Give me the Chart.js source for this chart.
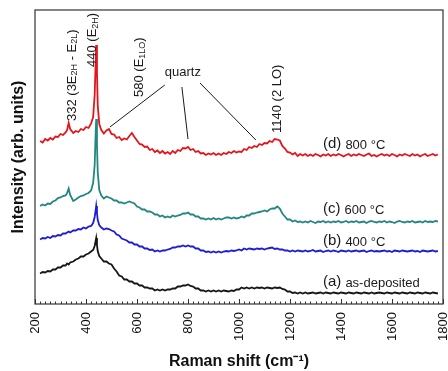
<!DOCTYPE html>
<html lang="en">
<head>
    <meta charset="UTF-8">
    <title>Raman spectra</title>
    <script src="https://cdn.jsdelivr.net/npm/chart.js"></script>
    <style>
        body { margin: 0; background: #fff; }
    </style>
</head>
<body>
    <canvas id="ramanChart" width="448" height="371"></canvas>
    <script>
        // Raman shift (cm-1), shared by all spectra
        const shift = [220, 230, 240, 250, 260, 270, 280, 290, 300, 310, 320, 326, 332, 338,
            350, 360, 370, 380, 390, 400, 410, 420, 428, 434, 437, 440, 443, 446, 452,
            460, 470, 480, 490, 500, 510, 520, 530, 540, 550,
            560, 570, 580, 590, 600, 610, 620, 630, 640, 650,
            660, 670, 680, 690, 700, 710, 720, 730, 740, 750,
            760, 770, 780, 790, 800, 810, 820, 830, 840, 850,
            860, 870, 880, 890, 900, 910, 920, 930, 940, 950,
            960, 970, 980, 990, 1000, 1010, 1020, 1030, 1040, 1050,
            1060, 1070, 1080, 1090, 1100, 1110, 1120, 1130, 1140, 1150,
            1160, 1170, 1180, 1190, 1200, 1210, 1220, 1230, 1240, 1250,
            1260, 1270, 1280, 1290, 1300, 1310, 1320, 1330, 1340, 1350,
            1360, 1370, 1380, 1390, 1400, 1410, 1420, 1430, 1440, 1450,
            1460, 1470, 1480, 1490, 1500, 1510, 1520, 1530, 1540, 1550,
            1560, 1570, 1580, 1590, 1600, 1610, 1620, 1630, 1640, 1650,
            1660, 1670, 1680, 1690, 1700, 1710, 1720, 1730, 1740, 1750,
            1760, 1770, 1780];

        // (d) 800 °C
        const d800 = [163, 161.5, 165, 163.5, 166, 164.5, 167.5, 167, 170, 169, 171.5, 174, 181, 175,
            171, 173, 172, 175, 174, 177, 176, 180.5, 187, 209, 234, 259, 232, 199, 180,
            174, 170.5, 173.5, 175, 170, 169.5, 166, 167, 164, 165.5,
            164.5, 168, 171, 167, 163.5, 160, 159.5, 157, 157.5, 154,
            155, 152, 153.5, 151, 153, 150.5, 152, 150, 153, 151,
            154, 153, 156, 155.5, 157, 154, 155, 152, 153, 150.5,
            151, 149, 150.5, 149.5, 151, 149, 150.5, 149, 151, 150,
            152, 151, 153, 151.5, 152.5, 152, 155, 154, 157, 156,
            158, 157, 160, 159, 161, 160.5, 163, 162, 165, 164.5,
            163.5, 158, 155.5, 152, 151.5, 149.5, 151, 148, 150, 148.5,
            150, 148, 149.5, 148, 150, 149, 147.5, 149.5, 148.5, 150,
            148, 149.5, 148.5, 150, 149, 147.5, 149, 150, 148, 149.5,
            148.5, 150, 149, 148, 149.5, 150.5, 148, 149, 147.5, 149,
            150, 148.5, 149.5, 148, 150, 149, 147.5, 149.5, 148.5, 150,
            149, 148, 150, 148.5, 149.5, 147.5, 149, 150, 148, 149,
            150, 148.5, 149.5];

        // (c) 600 °C
        const c600 = [98, 99.5, 98.5, 100.5, 100, 102.5, 103.5, 106, 106.5, 108, 108.5, 111, 115.5, 109,
            103, 104.5, 106.5, 108, 108.5, 110, 111, 113.5, 121, 139, 164, 185, 159, 132, 114,
            108.5, 105.5, 107.5, 106.5, 105.5, 103.5, 103.5, 101.5, 101.5, 100.5,
            101.5, 102.5, 101.5, 100.5, 97.5, 96.5, 94.5, 94.5, 92.5, 92.5,
            91.5, 89.5, 89.5, 87.5, 88.5, 86.5, 87.5, 86.5, 88.5, 87.5,
            88.5, 89, 90.5, 90.5, 91.5, 89.5, 89.5, 87.5, 87.5, 85.5,
            85.5, 84.5, 85.5, 84.5, 86, 84.5, 85.5, 84.5, 85.5, 86.5,
            86.5, 85.5, 86.5, 85.5, 86, 87.5, 86.5, 88.5, 88.5, 90.5,
            90.5, 91.5, 92, 92.5, 93.5, 92.5, 94.5, 95.5, 95.5, 97.5,
            95.5, 90.5, 87.5, 84.5, 84.5, 82.5, 83.5, 82, 82.5, 81.5,
            82.5, 81.5, 83, 82, 81, 82.5, 82, 83, 81.5, 82.5,
            81.5, 82.5, 82, 83, 81.5, 82, 83, 81.5, 82.5, 82,
            83, 81.5, 82, 82.5, 81, 82.5, 83, 82, 81.5, 82.5,
            82, 83, 81.5, 82.5, 82, 81, 82.5, 83, 82, 81.5,
            82.5, 82, 83, 81.5, 82, 82.5, 81.5, 83, 82, 82.5,
            82, 83, 82.5];

        // (b) 400 °C
        const b400 = [64.5, 66, 65.5, 67, 66, 68, 67.5, 69, 68.5, 70.5, 70.5, 71.5, 72.5, 71.5,
            73.5, 73.5, 75, 74.5, 76.5, 75.5, 77.5, 78, 81, 87, 92, 98, 91, 84, 79,
            76.5, 74.5, 75.5, 75, 73.5, 72.5, 69.5, 68.5, 65.5, 64.5,
            63.5, 61.5, 61.5, 59.5, 59.5, 57.5, 57.5, 55.5, 55.5, 54,
            54.5, 52.5, 53.5, 52.5, 53.5, 53.5, 54.5, 55, 56.5, 56.5,
            57.5, 57.5, 58.5, 57.5, 58.5, 57.5, 57.5, 55.5, 55.5, 53.5,
            53.5, 52, 52.5, 51.5, 52.5, 51.5, 52.5, 51.5, 52.5, 53,
            52.5, 53.5, 53, 53.5, 54.5, 53.5, 55.5, 54.5, 55.5, 55,
            54.5, 55.5, 55, 55.5, 54.5, 55.5, 56, 56.5, 55, 55.5,
            54.5, 54.5, 53.5, 53.5, 52.5, 53.5, 52.5, 53.5, 53, 52.5,
            53.5, 52.5, 53, 54, 52.5, 53, 53.5, 52, 53, 53.5,
            52.5, 53.5, 53, 52, 53.5, 53, 52.5, 53.5, 52.5, 53,
            53.5, 52.5, 53, 53.5, 52, 53, 53.5, 52.5, 53, 52.5,
            53, 53.5, 52.5, 53, 52, 53.5, 53, 52.5, 53.5, 53,
            52.5, 53, 53.5, 52.5, 53, 52, 53.5, 53, 52.5, 53,
            53.5, 52.5, 53];

        // (a) as-deposited
        const asDep = [30.5, 32, 31.5, 33, 32.5, 34.5, 34.5, 36.5, 36.5, 38.5, 38.5, 40.5, 39.5, 41.5,
            42.5, 44.5, 45.5, 47.5, 47.5, 49.5, 50.5, 52.5, 54, 58, 62, 66, 59, 53, 48,
            45.5, 42.5, 42.5, 40.5, 39.5, 35.5, 32.5, 28.5, 27.5, 24.5,
            24.5, 22.5, 22.5, 20.5, 20.5, 18.5, 18.5, 16.5, 16.5, 15.5,
            15.5, 13.5, 14.5, 13.5, 14.5, 13.5, 14.5, 14.5, 15.5, 15.5,
            17.5, 17.5, 18.5, 18.5, 19.5, 18, 17.5, 15.5, 15.5, 13.5,
            13.5, 12.5, 13.5, 12.5, 13.5, 12.5, 13.5, 12.5, 13.5, 13,
            12.5, 13.5, 13, 14.5, 14.5, 16.5, 15.5, 16.5, 15.5, 16.5,
            15.5, 16.5, 16, 16.5, 15.5, 16.5, 16, 15.5, 16.5, 16,
            16.5, 15, 14.5, 12.5, 12.5, 11, 11.5, 10.5, 11.5, 10.5,
            11.5, 10.5, 11, 11.5, 10.5, 11, 11.5, 10.5, 11.5, 11,
            10.5, 11.5, 11, 10.5, 11.5, 11, 10.5, 11.5, 11, 10.5,
            11.5, 11, 10.5, 11.5, 11, 10.5, 11.5, 10.5, 11, 11.5,
            11, 10.5, 11.5, 11, 10.5, 11.5, 11, 10.5, 11.5, 11,
            10.5, 11.5, 11, 10.5, 11.5, 11, 10.5, 11.5, 11, 10.5,
            11.5, 11, 10.5];

        const xTicks = [200, 400, 600, 800, 1000, 1200, 1400, 1600, 1800];

        const FONT = '"Liberation Sans", Arial, sans-serif';
        const INK = '#1a1a1a';

        // peak labels, drawn rotated: [x, y, pieces]
        const peakLabels = [
            [345, 183, [['332 (3E', 0], ['2H', 1], [' - E', 0], ['2L', 1], [')', 0]]],
            [427, 237, [['440 (E', 0], ['2H', 1], [')', 0]]],
            [608, 207, [['580 (E', 0], ['1LO', 1], [')', 0]]],
            [1149, 171, [['1140 (2 LO)', 0]]]
        ];
        const sampleLabels = [
            [1329, 160, '(d)', '800 °C'],
            [1329, 95, '(c)', '600 °C'],
            [1329, 63, '(b)', '400 °C'],
            [1329, 22, '(a)', 'as-deposited']
        ];
        // quartz pointer lines: from, to
        const quartzLines = [
            [[709, 219], [494, 177]],
            [[776, 217], [800, 165]],
            [[847, 221], [1066, 164]]
        ];

        const toPts = arr => shift.map((x, i) => ({ x: x, y: arr[i] }));

        const decor = {
            id: 'decor',
            afterDatasetsDraw(chart) {
                const { ctx, chartArea: a, scales: { x, y } } = chart;
                ctx.save();
                // frame
                ctx.strokeStyle = '#333';
                ctx.lineWidth = 1.2;
                ctx.strokeRect(a.left, a.top, a.right - a.left, a.bottom - a.top);
                // inward ticks on the bottom axis
                ctx.lineWidth = 1;
                ctx.beginPath();
                for (let v = 200; v <= 1800; v += 20) {
                    const px = Math.round(x.getPixelForValue(v)) + 0.5;
                    const len = v % 200 === 0 ? 5 : 2.5;
                    ctx.moveTo(px, a.bottom);
                    ctx.lineTo(px, a.bottom - len);
                }
                ctx.stroke();

                ctx.fillStyle = INK;
                ctx.textBaseline = 'middle';
                ctx.textAlign = 'left';
                // peak labels
                peakLabels.forEach(([vx, vy, parts]) => {
                    ctx.save();
                    ctx.translate(x.getPixelForValue(vx), y.getPixelForValue(vy));
                    ctx.rotate(-Math.PI / 2);
                    let cx = 0;
                    parts.forEach(([t, sub]) => {
                        ctx.font = (sub ? 9 : 13) + 'px ' + FONT;
                        ctx.fillText(t, cx, sub ? 3 : 0);
                        cx += ctx.measureText(t).width;
                    });
                    ctx.restore();
                });
                // quartz
                ctx.font = '13px ' + FONT;
                ctx.textAlign = 'center';
                ctx.fillText('quartz', x.getPixelForValue(780), y.getPixelForValue(232));
                ctx.strokeStyle = INK;
                ctx.lineWidth = 1;
                ctx.beginPath();
                quartzLines.forEach(([p, q]) => {
                    ctx.moveTo(x.getPixelForValue(p[0]), y.getPixelForValue(p[1]));
                    ctx.lineTo(x.getPixelForValue(q[0]), y.getPixelForValue(q[1]));
                });
                ctx.stroke();
                // sample labels
                ctx.textAlign = 'left';
                sampleLabels.forEach(([vx, vy, tag, txt]) => {
                    const px = x.getPixelForValue(vx);
                    const py = y.getPixelForValue(vy);
                    ctx.font = '15px ' + FONT;
                    ctx.fillText(tag, px, py);
                    const w = ctx.measureText(tag + ' ').width;
                    ctx.font = '13px ' + FONT;
                    ctx.fillText(txt, px + w, py + 1);
                });
                ctx.restore();
            }
        };

        const ctx = document.getElementById('ramanChart').getContext('2d');
        const ramanChart = new Chart(ctx, {
            type: 'line',
            data: {
                datasets: [
                    { label: '(d) 800 °C', data: toPts(d800), borderColor: '#e3151b' },
                    { label: '(c) 600 °C', data: toPts(c600), borderColor: '#24877f' },
                    { label: '(b) 400 °C', data: toPts(b400), borderColor: '#1d1dd6' },
                    { label: '(a) as-deposited', data: toPts(asDep), borderColor: '#161616' }
                ]
            },
            options: {
                responsive: false,
                animation: false,
                layout: { padding: { top: 10, right: 5, left: 0, bottom: 0 } },
                elements: {
                    line: { borderWidth: 1.8, tension: 0 },
                    point: { radius: 0 }
                },
                plugins: {
                    legend: { display: false },
                    tooltip: { enabled: false }
                },
                scales: {
                    x: {
                        type: 'linear',
                        min: 200,
                        max: 1800,
                        afterBuildTicks: s => { s.ticks = xTicks.map(v => ({ value: v })); },
                        afterFit: s => {
                            s.height = 67;
                            s.paddingLeft = 0;
                            s.paddingRight = 0;
                        },
                        grid: { display: false },
                        border: { display: false },
                        ticks: {
                            minRotation: 90,
                            maxRotation: 90,
                            padding: 0,
                            color: '#111',
                            callback: v => String(v),
                            font: { family: FONT, size: 13 }
                        },
                        title: {
                            display: true,
                            text: 'Raman shift (cm⁻¹)',
                            color: '#111',
                            padding: { top: 0, bottom: 0 },
                            font: { family: FONT, size: 16, weight: 'bold' }
                        }
                    },
                    y: {
                        min: 0,
                        max: 294,
                        afterFit: s => { s.width = 35; },
                        grid: { display: false },
                        border: { display: false },
                        ticks: { display: false },
                        title: {
                            display: true,
                            text: 'Intensity (arb. units)',
                            color: '#111',
                            padding: { top: 9, bottom: 0 },
                            font: { family: FONT, size: 16, weight: 'bold' }
                        }
                    }
                }
            },
            plugins: [decor]
        });
    </script>
</body>
</html>
